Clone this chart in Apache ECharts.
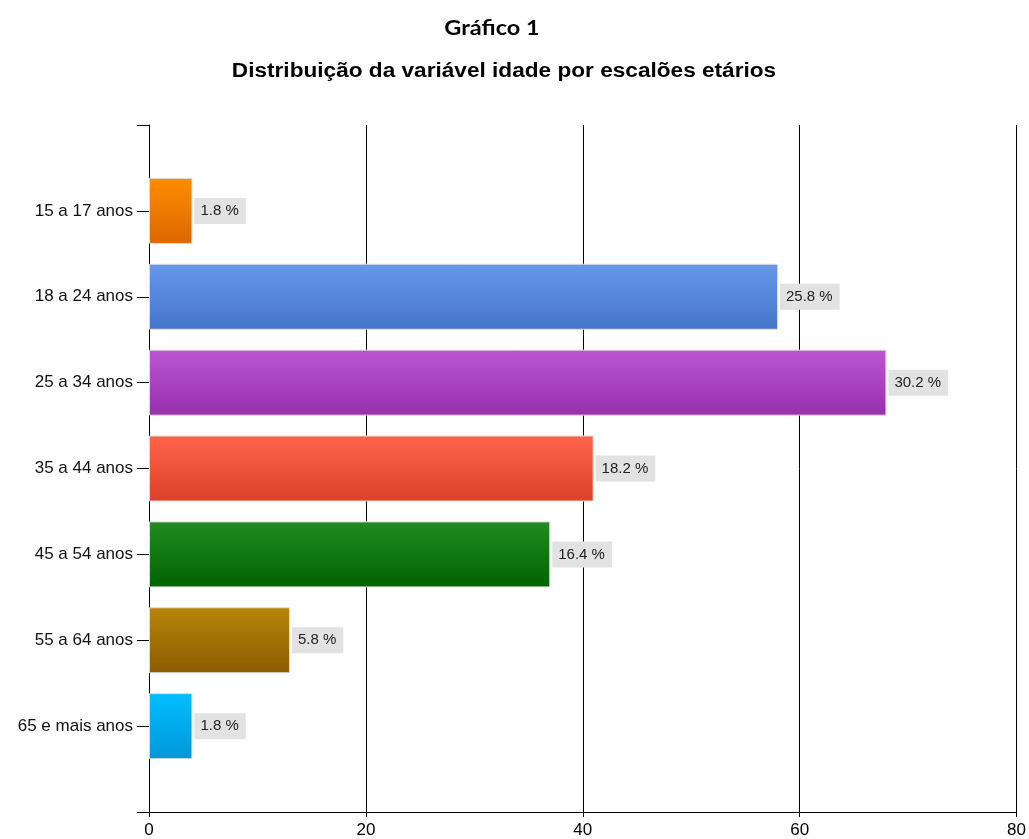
<!DOCTYPE html>
<html>
<head>
<meta charset="utf-8">
<script src="https://cdn.jsdelivr.net/npm/echarts@6/dist/echarts.min.js"></script>
<style>
html,body{margin:0;padding:0;background:#fff;}
#chart{width:1029px;height:839px;}
</style>
</head>
<body>
<div id="chart"></div>
<script>
const categories = ['15 a 17 anos','18 a 24 anos','25 a 34 anos','35 a 44 anos','45 a 54 anos','55 a 64 anos','65 e mais anos'];
const counts = [4, 58, 68, 41, 37, 13, 4];
const xTicks = [0, 20, 40, 60, 80];
const titleText = 'Gráfico 1';
const subtitleText = 'Distribuição da variável idade por escalões etários';

const barColors = [
  ['#ff8c00', '#db6700'],
  ['#6898ea', '#4574c9'],
  ['#bb56d3', '#982fab'],
  ['#fd6449', '#db4227'],
  ['#238b22', '#006400'],
  ['#b8860b', '#8c5b00'],
  ['#00bfff', '#0097dc']
];

const total = counts.reduce((a, b) => a + b, 0);
const yData = [''].concat(categories, ['']);
const seriesData = [null].concat(counts.map((v, i) => ({
  value: v,
  itemStyle: {
    color: new echarts.graphic.LinearGradient(0, 0, 0, 1, [
      {offset: 0, color: barColors[i][0]},
      {offset: 1, color: barColors[i][1]}
    ])
  }
})), [null]);

const chart = echarts.init(document.getElementById('chart'), null, {renderer: 'canvas'});
chart.setOption({
  animation: false,
  backgroundColor: '#ffffff',
  graphic: [
    {type: 'text', x: 492, y: 28, scaleX: 1.12, style: {text: titleText, fill: '#000', font: 'bold 21px Lato', align: 'center', verticalAlign: 'middle'}},
    {type: 'text', x: 504, y: 72, scaleX: 1.16, style: {text: subtitleText, fill: '#000', font: 'bold 19.5px "Liberation Sans"', align: 'center', verticalAlign: 'middle'}}
  ],
  grid: {left: 149, right: 11, top: 125, bottom: 27, containLabel: false},
  xAxis: {
    type: 'value',
    min: xTicks[0],
    max: xTicks[xTicks.length - 1],
    interval: xTicks[1] - xTicks[0],
    axisLine: {show: true, lineStyle: {color: '#000', width: 1}},
    axisTick: {show: true, length: 5, lineStyle: {color: '#000'}},
    splitLine: {show: true, lineStyle: {color: '#000', width: 1}},
    axisLabel: {color: '#000', fontSize: 17, fontFamily: 'Liberation Sans', margin: 10}
  },
  yAxis: {
    type: 'category',
    data: yData,
    inverse: true,
    boundaryGap: false,
    axisLine: {show: true, lineStyle: {color: '#000', width: 1}},
    axisTick: {show: true, length: 12, lineStyle: {color: '#000'}},
    splitLine: {show: false},
    axisLabel: {color: '#111', fontSize: 17, fontFamily: 'Liberation Sans', margin: 16}
  },
  series: [{
    type: 'bar',
    data: seriesData,
    barWidth: 66,
    itemStyle: {borderColor: '#dcdcdc', borderWidth: 1},
    label: {
      show: true,
      position: 'right',
      distance: 2,
      formatter: p => (p.value / total * 100).toFixed(1) + ' %',
      backgroundColor: '#e2e2e2',
      padding: [6, 7, 5, 6],
      color: '#222',
      fontSize: 15,
      fontFamily: 'Liberation Sans'
    }
  }]
});
</script>
</body>
</html>
